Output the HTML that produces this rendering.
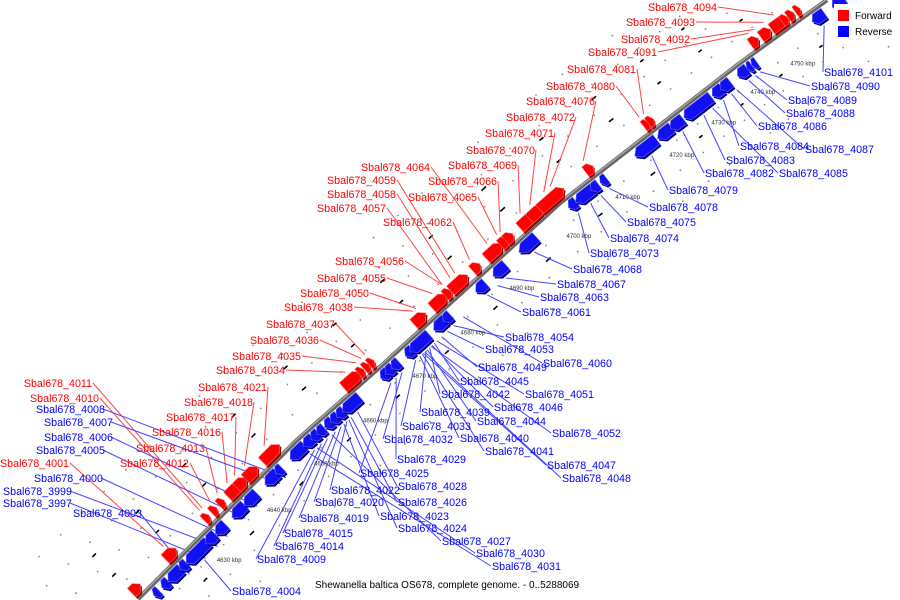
<!DOCTYPE html>
<html><head><meta charset="utf-8"><style>
html,body{margin:0;padding:0;background:#fff;width:900px;height:600px;overflow:hidden;}
svg{display:block;font-family:"Liberation Sans",sans-serif;overflow:hidden;}
</style></head><body>
<svg id="chart" width="900" height="600" viewBox="0 0 900 600">
<g id="dots"></g>
<g id="leaders"></g>
<g id="axis"></g>
<g id="genes"></g>
<g id="ticks"></g>
<g id="labels"></g>
<g>
<rect x="834" y="4" width="66" height="36" fill="#fff"/>
<rect x="838" y="10" width="11" height="11" fill="#f00"/>
<text x="855" y="19" font-size="10" fill="#000">Forward</text>
<rect x="838" y="26" width="11" height="11" fill="#00f"/>
<text x="855" y="35" font-size="10" fill="#000">Reverse</text>
</g>
<text x="315" y="588" font-size="10" fill="#000">Shewanella baltica OS678, complete genome. - 0..5288069</text>
</svg>
<script>
// ---- data (kbp) ----
const fwdKbp = [4616,4624,4632,4633.5,4635,4637.5,4639,4641,4645,4661.4,4663.3,4664.4,4665.4,4675.4,4679.4,4681.2,4683.5,4687,4690.5,4692.3,4693.2,4696.3,4698,4700.8,4708,4718.7,4719.5,4744.7,4747.5,4750.7,4752.3,4753.8,4755.5];
const fwdLen = [2,2.5,1,1,1,2.5,2,2.5,3.5,3.5,1,1,1,2.5,3,1.2,3.5,1.5,3,1.3,1.3,2.5,2.5,4.5,1.5,1,1,2,2.5,3.5,1.5,1.5,1.2];
const revKbp = [4617.8,4619.8,4622,4624,4627.2,4630.2,4632.2,4635.8,4638.2,4642.4,4644,4647.8,4650,4651.4,4652.6,4654.2,4655.4,4656.6,4658.8,4665.6,4666.6,4667.8,4670.6,4672.8,4677,4678.5,4685.4,4689.2,4694.3,4702.5,4704.9,4706.9,4708.6,4716.5,4720.2,4722.9,4727.9,4732.7,4734.7,4739,4740.8,4742,4758,4763];
const revLen = [1.2,1.5,3,1.5,5,2,2,2.5,2.5,2.5,1.2,3,2,1.5,1.5,1.5,1.5,1.5,3.5,1.5,1.5,1.5,1.5,4,2.5,1.5,2,2.5,3,1.5,3.5,1.5,1.2,4,3,3,6.5,2.5,2.5,2.5,1.2,1.2,3,3];
const tickKbp = [4630,4640,4650,4660,4670,4680,4690,4700,4710,4720,4730,4740,4750];

const fwdLabels = ["Sbal678_4094","Sbal678_4093","Sbal678_4092","Sbal678_4091","Sbal678_4081","Sbal678_4080","Sbal678_4076","Sbal678_4072","Sbal678_4071","Sbal678_4070","Sbal678_4069","Sbal678_4066","Sbal678_4065","Sbal678_4064","Sbal678_4059","Sbal678_4058","Sbal678_4057","Sbal678_4062","Sbal678_4056","Sbal678_4055","Sbal678_4050","Sbal678_4038","Sbal678_4037","Sbal678_4036","Sbal678_4035","Sbal678_4034","Sbal678_4021","Sbal678_4018","Sbal678_4017","Sbal678_4016","Sbal678_4013","Sbal678_4012","Sbal678_4011","Sbal678_4010","Sbal678_4001"];
const fwdLabelKbp = [4751,4748.5,4746,4744.7,4719.3,4718.5,4708,4701.5,4700.5,4698,4696.3,4692.8,4692.2,4690.5,4684,4683,4681.4,4687,4681.4,4679.4,4676,4675.4,4665.4,4664.6,4663.6,4661.4,4645,4641,4639,4637.5,4635.5,4634,4632.5,4632,4624];
const revLabels = ["Sbal678_4101","Sbal678_4090","Sbal678_4089","Sbal678_4088","Sbal678_4086","Sbal678_4084","Sbal678_4087","Sbal678_4083","Sbal678_4082","Sbal678_4085","Sbal678_4079","Sbal678_4078","Sbal678_4075","Sbal678_4074","Sbal678_4073","Sbal678_4068","Sbal678_4067","Sbal678_4063","Sbal678_4061","Sbal678_4054","Sbal678_4053","Sbal678_4060","Sbal678_4049","Sbal678_4045","Sbal678_4051","Sbal678_4042","Sbal678_4046","Sbal678_4039","Sbal678_4044","Sbal678_4033","Sbal678_4052","Sbal678_4040","Sbal678_4032","Sbal678_4041","Sbal678_4029","Sbal678_4047","Sbal678_4025","Sbal678_4048","Sbal678_4028","Sbal678_4022","Sbal678_4020","Sbal678_4026","Sbal678_4019","Sbal678_4023","Sbal678_4024","Sbal678_4015","Sbal678_4014","Sbal678_4027","Sbal678_4030","Sbal678_4009","Sbal678_4031","Sbal678_4004","Sbal678_4008","Sbal678_4007","Sbal678_4006","Sbal678_4005","Sbal678_4000","Sbal678_3999","Sbal678_3997","Sbal678_4003"];
const revLabelKbp = [4758,4742,4740.8,4739,4734.7,4732.7,4736,4727.9,4722.9,4730,4716.5,4708.6,4706.9,4704.9,4702.5,4694.3,4689.2,4687.5,4685.4,4678.5,4677.2,4680.5,4676,4674.5,4675,4673.5,4674,4672.8,4673,4670.6,4673.8,4671.5,4667.8,4672,4666.6,4672.2,4665.6,4672.5,4658.8,4656.6,4655.4,4657.5,4654.2,4656,4657,4652.6,4651.4,4653.5,4650.5,4650,4649,4627.2,4644,4642.8,4638.2,4635.8,4632.2,4630.2,4627.5,4623.8];

// ---- layout (label anchor pixels; not data) ----
const fwdLayoutX = [717,695,690,657,636,615,595,575,554,535,517,497,477,430,396,396,386,452,404,386,369,353,335,319,301,285,267,253,235,221,205,189,92,99,69];
const fwdLayoutY = [11,26,43,56,73,90,105,121,137,154,169,185,201,171,184,198,212,226,265,282,297,311,328,344,360,374,391,406,421,436,452,467,387,402,467];
const revLayoutX = [824,811,788,786,758,740,805,726,705,779,669,649,627,610,590,573,557,540,522,505,485,543,478,460,525,441,494,421,477,402,552,460,384,485,397,547,360,562,398,331,315,398,300,380,398,284,275,442,476,257,492,232,36,44,44,36,34,3,3,73];
const revLayoutY = [76,90,104,117,130,150,153,164,177,177,194,211,226,242,257,273,288,301,316,341,353,367,371,385,398,398,411,416,425,430,437,442,443,455,463,469,477,482,490,494,506,506,522,520,532,537,550,545,557,563,570,595,413,426,441,454,482,495,507,517];

// ---- axis functions ----
const kx = [[4600,73],[4630,203],[4640,253],[4650,302],[4660,351],[4670,400],[4680,448],[4690,497],[4700,554],[4710,605],[4720,659],[4730,701],[4740,741],[4750,781],[4780,901]];
const ly = [[60,677],[140,597],[297,440],[380,367],[560,203],[740,63],[827,0],[900,-53]];
function interp(tab,v){for(let i=0;i<tab.length-1;i++){if(v<=tab[i+1][0]||i===tab.length-2){const a=tab[i],b=tab[i+1];return a[1]+(b[1]-a[1])*(v-a[0])/(b[0]-a[0]);}}}
function base(k){const x=interp(kx,k);return [x,interp(ly,x)];}
function pt(k,off){const a=base(k-0.3),b=base(k+0.3);let ux=b[0]-a[0],uy=b[1]-a[1];const l=Math.hypot(ux,uy);ux/=l;uy/=l;const p=base(k);return [p[0]+uy*off,p[1]-ux*off];}
const inside=p=>p[0]>=0&&p[0]<=900&&p[1]>=0&&p[1]<=598;
const NS="http://www.w3.org/2000/svg";
function mk(tag,attrs,parent){const e=document.createElementNS(NS,tag);for(const k in attrs)e.setAttribute(k,attrs[k]);parent.appendChild(e);return e;}
const P=a=>a.map(p=>p[0].toFixed(1)+","+p[1].toFixed(1)).join(" ");

// grid dots and tick dashes
const gDots=document.getElementById("dots");
for(let k=4606;k<=4770;k+=5){
  [22,48,74,100,-22,-48,-74].forEach((o,i)=>{const kk=k+(i%2)*2.5;const p=pt(kk,o);
    if(!inside(p))return;
    const d=mk("circle",{cx:p[0].toFixed(1),cy:p[1].toFixed(1),r:0.9,fill:"#888"},gDots);
    
    });
}
for(let k=4605;k<=4770;k+=10){
  [34,62,-34].forEach(o=>{const a=pt(k-0.4,o),b=pt(k+0.4,o);
    if(!inside(a)||!inside(b))return;
    const t=mk("line",{x1:a[0],y1:a[1],x2:b[0],y2:b[1],stroke:"#000","stroke-width":1.6},gDots);
    
    });
}

// axis
const gAxis=document.getElementById("axis");
const axPts=[];for(let k=4600;k<=4775;k+=0.5){const p=pt(k,0);if(p[1]<=600&&p[1]>=0)axPts.push(p);}
const ax1=mk("polyline",{points:P(axPts),fill:"none",stroke:"#666","stroke-width":4.5},gAxis);


const ax2=mk("polyline",{points:P(axPts.map(p=>[p[0]-0.6,p[1]-0.6])),fill:"none",stroke:"#aaa","stroke-width":1.3},gAxis);



// ticks
const gT=document.getElementById("ticks");
tickKbp.forEach(k=>{const p=pt(k,-37);
  const t=mk("text",{x:p[0].toFixed(1),y:(p[1]+2).toFixed(1),"font-size":6,"text-anchor":"middle",fill:"#333"},gT);
  t.textContent=k+" kbp";
  
  });

// leaders and labels
const gL=document.getElementById("leaders"),gLab=document.getElementById("labels");
fwdLabels.forEach((s,i)=>{const e=pt(fwdLabelKbp[i],19);
  const l=mk("line",{x1:fwdLayoutX[i]+1,y1:fwdLayoutY[i]-4,x2:e[0],y2:e[1],stroke:"#f44","stroke-width":1},gL);
  
  
  const t=mk("text",{x:fwdLayoutX[i],y:fwdLayoutY[i],"font-size":10.7,"text-anchor":"end",fill:"#f00"},gLab);
  t.textContent=s;
  
  });
revLabels.forEach((s,i)=>{const e=pt(revLabelKbp[i],-19);const left=revLayoutX[i]<150;
  const sx=left?revLayoutX[i]+67:revLayoutX[i]-1;
  const l=mk("line",{x1:sx,y1:revLayoutY[i]-4,x2:e[0],y2:e[1],stroke:"#44f","stroke-width":1},gL);
  
  
  const t=mk("text",{x:revLayoutX[i],y:revLayoutY[i],"font-size":10.7,"text-anchor":"start",fill:"#00f"},gLab);
  t.textContent=s;
  
  });

// genes
const gG=document.getElementById("genes");
function gene(c,len,strand){const k0=c-len/2,k1=c+len/2,tip=Math.min(0.9,len*0.45);const s=strand;
  const a=3*s,b=15*s,m=9*s;let poly;
  if(s>0)poly=[pt(k0,a),pt(k1-tip,a),pt(k1,m),pt(k1-tip,b),pt(k0,b)];
  else poly=[pt(k1,a),pt(k0+tip,a),pt(k0,m),pt(k0+tip,b),pt(k1,b)];
  const sh=mk("polygon",{points:P(poly.map(p=>[p[0]+1.5,p[1]+2])),fill:s>0?"#900":"#008"},gG);
  
  
  const g=mk("polygon",{points:P(poly),fill:s>0?"#f00":"#1010f0",stroke:s>0?"#ff6a6a":"#6a6aff","stroke-width":0.6},gG);
  
  }
fwdKbp.forEach((k,i)=>gene(k,fwdLen[i],1));
revKbp.forEach((k,i)=>gene(k,revLen[i],-1));
</script>
</body></html>
